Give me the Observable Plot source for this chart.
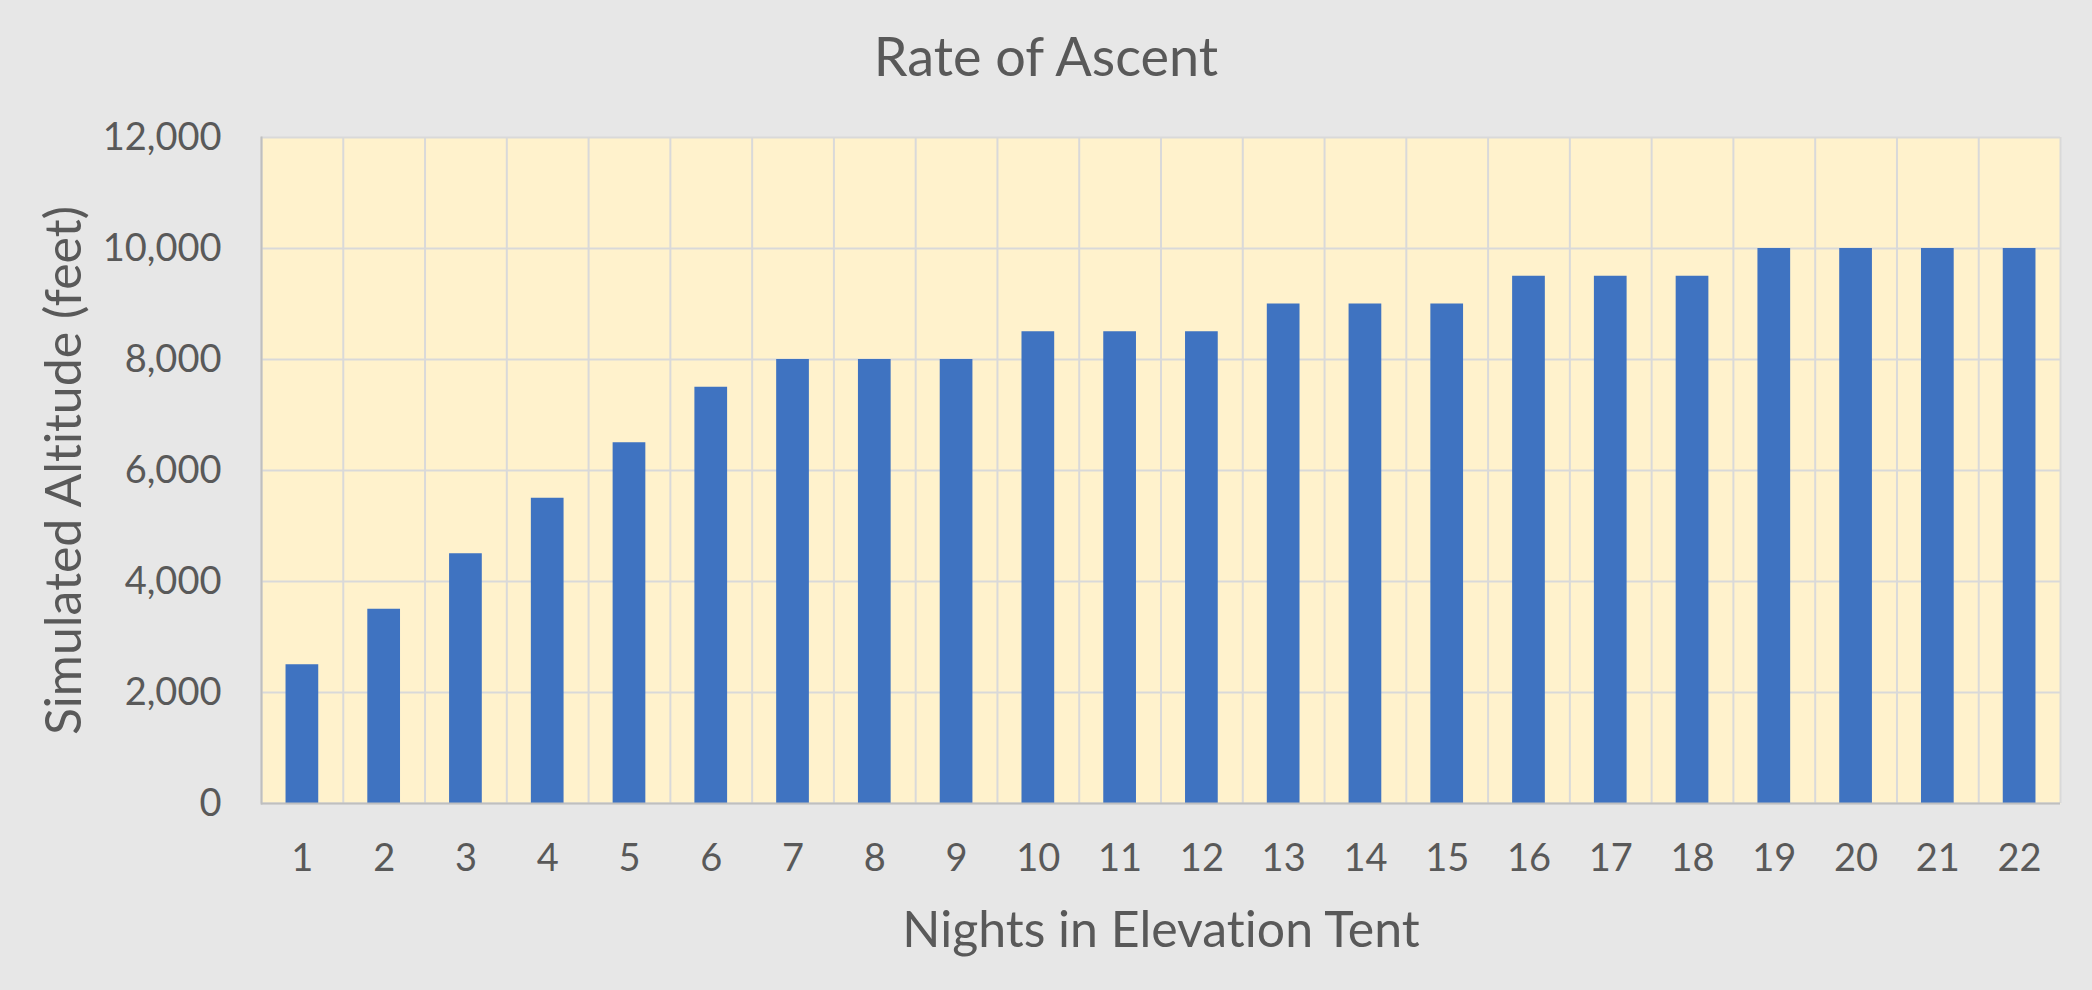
<!DOCTYPE html>
<html>
<head>
<meta charset="utf-8">
<script src="https://cdn.jsdelivr.net/npm/d3@7"></script>
<script src="https://cdn.jsdelivr.net/npm/@observablehq/plot@0.6"></script>
<style>
  html, body { margin: 0; padding: 0; background: #e7e7e7; }
  body { width: 2092px; height: 990px; overflow: hidden; font-family: Lato, "Open Sans", sans-serif; font-variant-ligatures: none; }
  #title { height: 100px; box-sizing: border-box; padding-top: 29px; font-size: 54px; line-height: 1; text-align: center; color: #595959; }
  #chart svg { display: block; }
  #chart svg text { font-variant-ligatures: none; }
</style>
</head>
<body>
<div id="title">Rate of Ascent</div>
<div id="chart"></div>
<script>
const nights = [1, 2, 3, 4, 5, 6, 7, 8, 9, 10, 11, 12, 13, 14, 15, 16, 17, 18, 19, 20, 21, 22];
const altitudes = [2500, 3500, 4500, 5500, 6500, 7500, 8000, 8000, 8000, 8500, 8500, 8500,
                   9000, 9000, 9000, 9500, 9500, 9500, 10000, 10000, 10000, 10000];
const yTicks = [0, 2000, 4000, 6000, 8000, 10000, 12000];
const xTitle = "Nights in Elevation Tent";
const yTitle = "Simulated Altitude (feet)";

const data = nights.map((n, i) => ({night: n, alt: altitudes[i]}));

const W = 2092, H = 890;
const mL = 261, mR = 32, mT = 37, mB = 187;
const step = (W - mL - mR) / nights.length;
const textColor = "#595959";

const chart = Plot.plot({
  width: W,
  height: H,
  marginLeft: mL,
  marginRight: mR,
  marginTop: mT,
  marginBottom: mB,
  style: {background: "transparent", fontFamily: "Lato, 'Open Sans', sans-serif", color: textColor},
  x: {type: "band", domain: nights, paddingInner: 0.6, paddingOuter: 0.3, round: false},
  y: {domain: [0, 12000]},
  marks: [
    Plot.frame({fill: "#fff2cc", stroke: null}),
    Plot.ruleY(yTicks, {stroke: "#d9d9d9", strokeWidth: 2}),
    Plot.ruleX(nights, {x: d => d, dx: -step / 2, stroke: "#d9d9d9", strokeWidth: 2}),
    Plot.ruleX(nights.slice(-1), {x: d => d, dx: step / 2, stroke: "#d9d9d9", strokeWidth: 2}),
    Plot.barY(data, {x: "night", y: "alt", fill: "#3f73c1"}),
    Plot.ruleY([0], {stroke: "#bfbfbf", strokeWidth: 2}),
    Plot.frame({anchor: "left", stroke: "#bfbfbf", strokeWidth: 2}),
    Plot.axisY({ticks: yTicks, tickSize: 0, tickPadding: 40, fontSize: 38, tickFormat: d3.format(","), label: null, fill: textColor}),
    Plot.axisX({tickSize: 0, tickPadding: 41, fontSize: 38, label: null, fill: textColor}),
    Plot.text([xTitle], {frameAnchor: "bottom", lineAnchor: "middle", textAnchor: "middle", dy: 127, fontSize: 50, fill: textColor}),
    Plot.text([yTitle], {frameAnchor: "left", lineAnchor: "middle", textAnchor: "middle", rotate: -90, dx: -197, fontSize: 50, fill: textColor})
  ]
});
document.getElementById("chart").appendChild(chart);
</script>
</body>
</html>
